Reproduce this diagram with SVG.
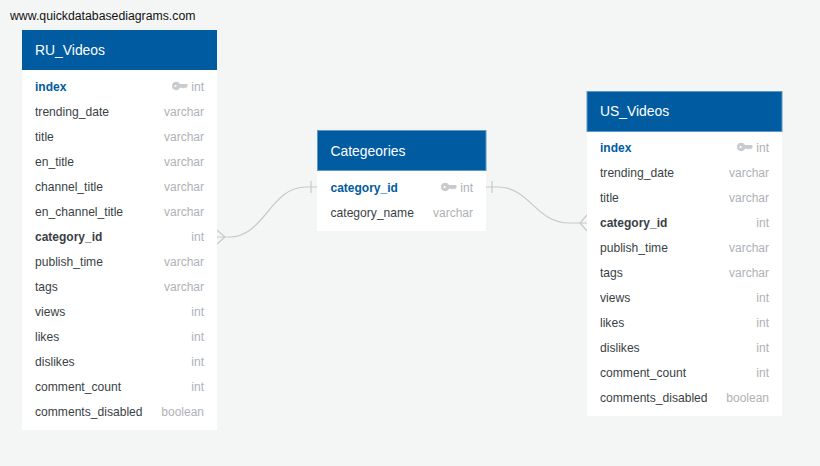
<svg xmlns="http://www.w3.org/2000/svg" width="820" height="466" viewBox="0 0 820 466">
<style>
text{font-family:"Liberation Sans",Arial,sans-serif;font-size:12.1px}
.body{fill:#fff}
.head{fill:#005ba1}
.edge{fill:#005ba1;stroke:#5f98c8;stroke-width:1}
.title{fill:#fff;font-size:13.9px}
.n{fill:#3a3f45}
.b{font-weight:bold;font-size:12px}
.pk{fill:#005ba1;font-weight:bold;font-size:12px}
.t{fill:#aeb2b6;text-anchor:end;font-size:12px}
.key{fill:#c9ccce;fill-rule:evenodd}
.c{fill:none;stroke:#c6cac9;stroke-width:1.200}
</style>
<defs>
<path id="k" class="key" d="M4 -4.200A4.200 4.200 0 0 1 8 -2H15.500V0.500L13.800 2.600L12.500 1.600L11.200 2.600L9.800 1.800H8A4.200 4.200 0 1 1 4 -4.200ZM3.600 -1.100A1.100 1.100 0 1 0 3.600 1.100A1.100 1.100 0 1 0 3.600 -1.100Z"/>
</defs>
<rect width="820" height="466" fill="#f4f6f6"/>
<text x="10" y="20" fill="#111" style="font-size:12.27px">www.quickdatabasediagrams.com</text>
<g id="connectors">
<path class="c" d="M217 237H229C265 237 270 187 306 187H317M217 230L225 237L217 244M311 181V193"/>
<path class="c" d="M486 187H498C530 187 535 223 570 223H587M587 215L580 223L587 231M492 181V193"/>
</g>
<g id="RU_Videos">
<rect class="body" x="22" y="30" width="195" height="400"/>
<rect class="head" x="22" y="30" width="195" height="40"/>
<text class="title" x="35" y="55">RU_Videos</text>
<text class="pk" x="35" y="91">index</text><use href="#k" x="172" y="86"/><text class="t" x="204" y="91">int</text>
<text class="n" x="35" y="116">trending_date</text><text class="t" x="204" y="116">varchar</text>
<text class="n" x="35" y="141">title</text><text class="t" x="204" y="141">varchar</text>
<text class="n" x="35" y="166">en_title</text><text class="t" x="204" y="166">varchar</text>
<text class="n" x="35" y="191">channel_title</text><text class="t" x="204" y="191">varchar</text>
<text class="n" x="35" y="216">en_channel_title</text><text class="t" x="204" y="216">varchar</text>
<text class="n b" x="35" y="241">category_id</text><text class="t" x="204" y="241">int</text>
<text class="n" x="35" y="266">publish_time</text><text class="t" x="204" y="266">varchar</text>
<text class="n" x="35" y="291">tags</text><text class="t" x="204" y="291">varchar</text>
<text class="n" x="35" y="316">views</text><text class="t" x="204" y="316">int</text>
<text class="n" x="35" y="341">likes</text><text class="t" x="204" y="341">int</text>
<text class="n" x="35" y="366">dislikes</text><text class="t" x="204" y="366">int</text>
<text class="n" x="35" y="391">comment_count</text><text class="t" x="204" y="391">int</text>
<text class="n" x="35" y="416">comments_disabled</text><text class="t" x="204" y="416">boolean</text>
</g>
<g id="Categories">
<rect class="body" x="317" y="130" width="169" height="101"/>
<rect class="edge" x="317.500" y="130.500" width="168.500" height="40"/>
<text class="title" x="330.500" y="156">Categeories</text>
<text class="pk" x="330.500" y="192">category_id</text><use href="#k" x="441" y="187"/><text class="t" x="473" y="192">int</text>
<text class="n" x="330.500" y="217">category_name</text><text class="t" x="473" y="217">varchar</text>
</g>
<g id="US_Videos">
<rect class="body" x="587" y="91" width="195" height="325"/>
<rect class="edge" x="587" y="91.500" width="195" height="40"/>
<text class="title" x="600" y="116">US_Videos</text>
<text class="pk" x="600" y="152">index</text><use href="#k" x="737" y="147"/><text class="t" x="769" y="152">int</text>
<text class="n" x="600" y="177">trending_date</text><text class="t" x="769" y="177">varchar</text>
<text class="n" x="600" y="202">title</text><text class="t" x="769" y="202">varchar</text>
<text class="n b" x="600" y="227">category_id</text><text class="t" x="769" y="227">int</text>
<text class="n" x="600" y="252">publish_time</text><text class="t" x="769" y="252">varchar</text>
<text class="n" x="600" y="277">tags</text><text class="t" x="769" y="277">varchar</text>
<text class="n" x="600" y="302">views</text><text class="t" x="769" y="302">int</text>
<text class="n" x="600" y="327">likes</text><text class="t" x="769" y="327">int</text>
<text class="n" x="600" y="352">dislikes</text><text class="t" x="769" y="352">int</text>
<text class="n" x="600" y="377">comment_count</text><text class="t" x="769" y="377">int</text>
<text class="n" x="600" y="402">comments_disabled</text><text class="t" x="769" y="402">boolean</text>
</g>
</svg>
